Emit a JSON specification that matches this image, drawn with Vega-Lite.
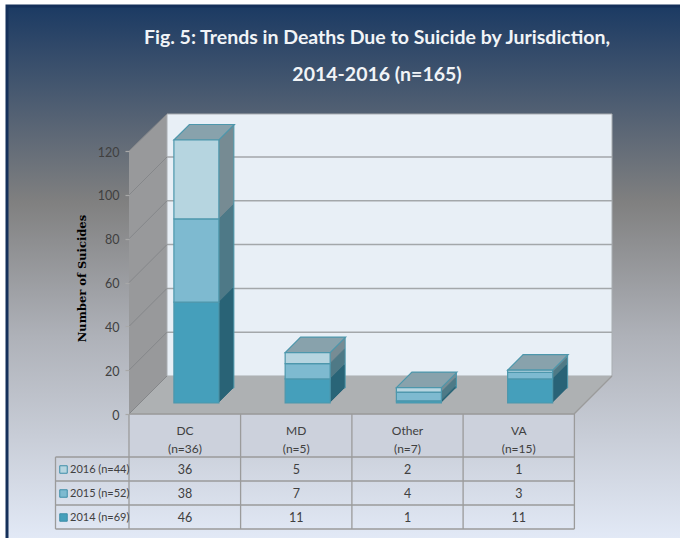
{
"$schema":"https://vega.github.io/schema/vega-lite/v6.json",
"width":680,"height":538,"padding":0,"autosize":{"type":"none"},"background":"#ffffff",
"view":{"stroke":null},
"title":{"text":["Fig. 5: Trends in Deaths Due to Suicide by Jurisdiction,","2014-2016 (n=165)"],"anchor":"start","frame":"group","align":"center","baseline":"top","dx":377,"dy":85,"offset":0,"lineHeight":37,"fontSize":19.5,"font":"Lato","fontWeight":"bold","color":"#f1f4f7","zindex":1},
"datasets":{"deaths":[
{"jurisdiction":"DC","series":"2014 (n=69)","deaths":46},{"jurisdiction":"DC","series":"2015 (n=52)","deaths":38},{"jurisdiction":"DC","series":"2016 (n=44)","deaths":36},
{"jurisdiction":"MD","series":"2014 (n=69)","deaths":11},{"jurisdiction":"MD","series":"2015 (n=52)","deaths":7},{"jurisdiction":"MD","series":"2016 (n=44)","deaths":5},
{"jurisdiction":"Other","series":"2014 (n=69)","deaths":1},{"jurisdiction":"Other","series":"2015 (n=52)","deaths":4},{"jurisdiction":"Other","series":"2016 (n=44)","deaths":2},
{"jurisdiction":"VA","series":"2014 (n=69)","deaths":11},{"jurisdiction":"VA","series":"2015 (n=52)","deaths":3},{"jurisdiction":"VA","series":"2016 (n=44)","deaths":1}
]},
"data":{"name":"deaths"},
"layer":[
{"data":{"values":[{}]},"mark":{"type":"point","size":4,"opacity":1,"filled":true,"stroke":null,"shape":"M-179 -409H495V124H-179Z","fill":{"gradient":"linear","x1":0,"y1":0,"x2":0,"y2":1,"stops":[{"offset":0,"color":"#1b3a63"},{"offset":0.37,"color":"#808080"},{"offset":0.62,"color":"#aeb1b8"},{"offset":1,"color":"#e2e9f6"}]}},
 "encoding":{"x":{"datum":"DC","type":"nominal","title":null,"scale":{"type":"band","domain":["DC","MD","Other","VA"],"range":[129.375,574.375],"paddingInner":0,"paddingOuter":0},
   "axis":{"orient":"bottom","offset":-124,"zindex":1,"domain":false,"ticks":false,"grid":false,"labelAngle":0,"labelPadding":11,"labelFont":"Lato","labelFontSize":12,"labelColor":"#404040","labelLineHeight":18,"labelAlign":"center","labelBaseline":"top","labelExpr":"[datum.label, datum.label=='DC'?'(n=36)':datum.label=='MD'?'(n=5)':datum.label=='Other'?'(n=7)':'(n=15)']"}},
  "y":{"datum":0,"type":"quantitative","title":"Number of Suicides","scale":{"domain":[0,120],"range":[414,151],"nice":false,"zero":false},
   "axis":{"orient":"left","offset":-129,"zindex":1,"values":[0,20,40,60,80,100,120],"grid":false,"domain":false,"tickSize":4,"tickColor":"#a8a8a8","tickWidth":1.2,"labelPadding":6,"labelOffset":1,"labelFont":"Lato","labelFontSize":12.5,"labelColor":"#404040","titleFont":"DejaVu Serif","titleFontWeight":"bold","titleFontSize":11.5,"titleColor":"#000000","titleX":-42,"titleY":278,"titleAngle":-90}}}},
{"data":{"values":[{}]},"mark":{"type":"point","size":4,"opacity":1,"filled":false,"fill":"transparent","stroke":"#15305a","strokeWidth":3,"shape":"M-178 124V-408H495"},"encoding":{"x":{"datum":"DC","type":"nominal"},"y":{"datum":0,"type":"quantitative"}}},
{"data":{"values":[{}]},"mark":{"type":"point","size":4,"opacity":1,"filled":true,"stroke":null,"fill":"#98999b","shape":"M-56 0L-18 -38V-300L-56 -263Z"},"encoding":{"x":{"datum":"DC","type":"nominal"},"y":{"datum":0,"type":"quantitative"}}},
{"data":{"values":[{}]},"mark":{"type":"point","size":4,"opacity":1,"filled":true,"stroke":"#a9adb1","strokeWidth":1,"fill":"#e8eff6","shape":"M-18 -300H427V-38H-18Z"},"encoding":{"x":{"datum":"DC","type":"nominal"},"y":{"datum":0,"type":"quantitative"}}},
{"data":{"values":[{}]},"mark":{"type":"point","size":4,"opacity":1,"filled":true,"stroke":null,"fill":"#aeb1b3","shape":"M-56 0L-18 -38H427L389 0Z"},"encoding":{"x":{"datum":"DC","type":"nominal"},"y":{"datum":0,"type":"quantitative"}}},
{"data":{"values":[{}]},"mark":{"type":"point","size":4,"opacity":1,"filled":true,"stroke":null,"fill":"#ccd1dc","shape":"M-56 1H389V43H-56Z"},"encoding":{"x":{"datum":"DC","type":"nominal"},"y":{"datum":0,"type":"quantitative"}}},
{"data":{"values":[{}]},"mark":{"type":"point","size":4,"opacity":1,"filled":false,"fill":"transparent","stroke":"#a3a7aa","strokeWidth":1.5,"shape":"M-18 -81.8H427M-18 -125.6H427M-18 -169.4H427M-18 -213.2H427M-18 -257H427"},"encoding":{"x":{"datum":"DC","type":"nominal"},"y":{"datum":0,"type":"quantitative"}}},
{"data":{"values":[{}]},"mark":{"type":"point","size":4,"opacity":1,"filled":false,"fill":"transparent","stroke":"#85878a","strokeWidth":1,"shape":"M-56 -43.8L-18 -81.8M-56 -87.6L-18 -125.6M-56 -131.4L-18 -169.4M-56 -175.2L-18 -213.2M-56 -219L-18 -257M-56 -263L-18 -300M-56 0L-18 -38"},"encoding":{"x":{"datum":"DC","type":"nominal"},"y":{"datum":0,"type":"quantitative"}}},
{"data":{"values":[{}]},"mark":{"type":"point","size":4,"opacity":1,"filled":false,"fill":"transparent","stroke":"#9b9b9b","strokeWidth":1.3,"shape":"M-56 0H389L427 -38M-56 0V115M55.6 0V115M166.9 0V115M278.1 0V115M389.4 0V115M-129.5 43H389.4M-129.5 67H389.4M-129.5 91H389.4M-129.5 115H389.4M-129.5 43V115"},"encoding":{"x":{"datum":"DC","type":"nominal"},"y":{"datum":0,"type":"quantitative"}}},
{"encoding":{"x":{"field":"jurisdiction","type":"nominal","title":null},"y":{"field":"deaths","type":"quantitative","stack":"zero","title":"Number of Suicides"},"order":{"field":"series","sort":"ascending"},"fill":{"field":"series","type":"nominal","legend":null,"scale":{"domain":["2014 (n=69)","2015 (n=52)","2016 (n=44)"],"range":["#2a6477","#4f7a87","#778c94"]}}},
"layer":[
{"mark":{"type":"bar","width":45,"xOffset":26.4,"yOffset":-26,"y2Offset":-26,"stroke":"#4d97ac","strokeWidth":1}},
{"mark":{"type":"bar","width":45,"xOffset":25.4,"yOffset":-25,"y2Offset":-25}},
{"mark":{"type":"bar","width":45,"xOffset":24.4,"yOffset":-24,"y2Offset":-24}},
{"mark":{"type":"bar","width":45,"xOffset":23.4,"yOffset":-23,"y2Offset":-23}},
{"mark":{"type":"bar","width":45,"xOffset":22.4,"yOffset":-22,"y2Offset":-22}},
{"mark":{"type":"bar","width":45,"xOffset":21.4,"yOffset":-21,"y2Offset":-21}},
{"mark":{"type":"bar","width":45,"xOffset":20.4,"yOffset":-20,"y2Offset":-20}},
{"mark":{"type":"bar","width":45,"xOffset":19.4,"yOffset":-19,"y2Offset":-19}},
{"mark":{"type":"bar","width":45,"xOffset":18.4,"yOffset":-18,"y2Offset":-18}},
{"mark":{"type":"bar","width":45,"xOffset":17.4,"yOffset":-17,"y2Offset":-17}},
{"mark":{"type":"bar","width":45,"xOffset":16.4,"yOffset":-16,"y2Offset":-16}},
{"mark":{"type":"bar","width":45,"xOffset":15.4,"yOffset":-15,"y2Offset":-15}},
{"mark":{"type":"bar","width":45,"xOffset":14.4,"yOffset":-14,"y2Offset":-14}},
{"mark":{"type":"bar","width":45,"xOffset":13.4,"yOffset":-13,"y2Offset":-13}},
{"mark":{"type":"bar","width":45,"xOffset":12.4,"yOffset":-12,"y2Offset":-12}}
]},
{"transform":[{"aggregate":[{"op":"sum","field":"deaths","as":"total"}],"groupby":["jurisdiction"]}],
 "mark":{"type":"point","size":4,"opacity":1,"filled":true,"fill":"#88a2ac","stroke":"#4d97ac","strokeWidth":1.2,"xOffset":11.4,"yOffset":-11,"shape":"M-22.5 0L-7 -15.5H38L22.5 0Z"},
 "encoding":{"x":{"field":"jurisdiction","type":"nominal","title":null},"y":{"field":"total","type":"quantitative","title":"Number of Suicides"}}},
{"mark":{"type":"bar","width":45,"xOffset":11.4,"yOffset":-11,"y2Offset":-11,"stroke":"#4d97ac","strokeWidth":1.2},
 "encoding":{"x":{"field":"jurisdiction","type":"nominal","title":null},"y":{"field":"deaths","type":"quantitative","stack":"zero","title":"Number of Suicides"},"order":{"field":"series","sort":"ascending"},
  "color":{"field":"series","type":"nominal","scale":{"domain":["2016 (n=44)","2015 (n=52)","2014 (n=69)"],"range":["#b6d5e0","#7ebad0","#459fbb"]},
   "legend":{"orient":"none","legendX":58,"legendY":464,"title":null,"zindex":1,"symbolType":"square","symbolSize":56,"symbolStrokeColor":"#3e8ea8","symbolStrokeWidth":1,"symbolOpacity":1,"rowPadding":11,"labelFont":"Lato","labelFontSize":11,"labelColor":"#404040","labelOffset":1,"padding":0}}}},
{"transform":[{"filter":"datum.series=='2016 (n=44)'"}],"mark":{"type":"text","font":"Lato","fontSize":12.5,"color":"#404040","yOffset":56},"encoding":{"x":{"field":"jurisdiction","type":"nominal","title":null},"y":{"datum":0,"type":"quantitative"},"text":{"field":"deaths","type":"quantitative"}}},
{"transform":[{"filter":"datum.series=='2015 (n=52)'"}],"mark":{"type":"text","font":"Lato","fontSize":12.5,"color":"#404040","yOffset":80},"encoding":{"x":{"field":"jurisdiction","type":"nominal","title":null},"y":{"datum":0,"type":"quantitative"},"text":{"field":"deaths","type":"quantitative"}}},
{"transform":[{"filter":"datum.series=='2014 (n=69)'"}],"mark":{"type":"text","font":"Lato","fontSize":12.5,"color":"#404040","yOffset":104},"encoding":{"x":{"field":"jurisdiction","type":"nominal","title":null},"y":{"datum":0,"type":"quantitative"},"text":{"field":"deaths","type":"quantitative"}}}
]
}
